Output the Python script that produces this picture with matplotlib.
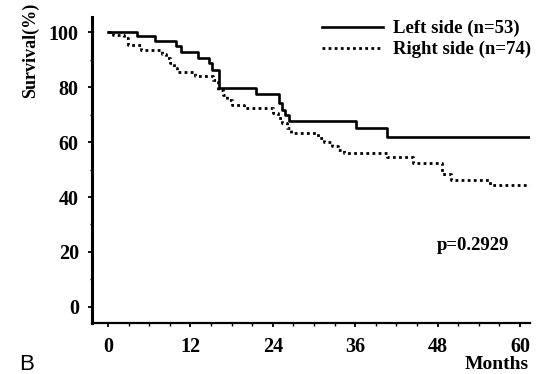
import matplotlib
matplotlib.use("Agg")
import matplotlib.pyplot as plt
from matplotlib.ticker import MultipleLocator, FixedLocator

# Kaplan-Meier estimates (months, survival %) for each group
left_months = [0, 4.2, 6.8, 9.9, 10.6, 13.1, 14.75, 15.1, 16.1, 21.5, 24.9, 25.3, 25.8, 26.4, 36.1, 40.6, 61.4]
left_surv = [100, 98.6, 96.8, 95.0, 92.7, 90.5, 88.7, 86.3, 79.8, 77.4, 74.1, 71.7, 69.9, 67.8, 65.2, 62.0, 62.0]

right_months = [0, 0.7, 2.4, 2.9, 4.8, 7.8, 8.4, 9.0, 9.6, 10.0, 12.7, 15.3, 16.0, 16.8, 17.4, 18.0,
                19.8, 24.1, 24.8, 25.4, 26.0, 26.6, 30.6, 31.5, 32.6, 33.5, 34.3, 40.6, 44.4, 48.6,
                49.9, 55.6, 61.4]
right_surv = [100, 99.0, 97.8, 95.4, 93.7, 92.3, 90.5, 88.7, 86.9, 85.6, 84.2, 82.7, 79.0, 77.0, 75.3, 73.5,
              72.3, 70.5, 68.7, 66.9, 65.1, 63.3, 61.5, 60.0, 58.6, 57.3, 56.1, 54.7, 52.3, 48.4,
              46.2, 44.4, 44.4]

x_ticks = [0, 12, 24, 36, 48, 60]
y_ticks = [0, 20, 40, 60, 80, 100]
left_label = "Left side (n=53)"
right_label = "Right side (n=74)"
p_text = "p=0.2929"

W, H = 539, 374
serif = "Liberation Serif"

fig = plt.figure(figsize=(W / 100, H / 100), dpi=100)
ax = fig.add_axes([92 / W, 1 - 323 / H, (530 - 92) / W, (323 - 17) / H])

ax.step(left_months, left_surv, where="post", color="black", lw=1.9, label=left_label)
ax.step(right_months, right_surv, where="post", color="black", lw=2.0,
        ls=(0, (1, 1.2)), label=right_label)

ax.set_xlim(-2.33, 61.46)
ax.set_ylim(-5.9, 105.6)

for side in ("top", "right"):
    ax.spines[side].set_visible(False)
ax.spines["left"].set_linewidth(2.2)
ax.spines["bottom"].set_linewidth(1.6)

ax.xaxis.set_major_locator(FixedLocator(x_ticks))
ax.yaxis.set_major_locator(FixedLocator(y_ticks))
ax.xaxis.set_minor_locator(MultipleLocator(3))
ax.yaxis.set_minor_locator(MultipleLocator(10))
ax.tick_params(axis="both", which="major", direction="out", length=3, width=1.3,
               labelsize=14.5)
ax.tick_params(axis="both", which="minor", direction="out", length=1.8, width=1.0)
ax.tick_params(axis="y", which="major", pad=6.5)
ax.tick_params(axis="x", which="major", pad=7)
for lab in ax.get_xticklabels() + ax.get_yticklabels():
    lab.set_fontfamily(serif)
    lab.set_fontweight("bold")

leg = ax.legend(loc="upper left", bbox_to_anchor=(322 / W, 1 - 20 / H),
                bbox_transform=fig.transFigure, frameon=False, borderpad=0,
                borderaxespad=0, handlelength=3.25, handletextpad=0.53,
                labelspacing=0.2,
                prop={"family": serif, "weight": "bold", "size": 13.5})

ax.text(53.1, 22.5, p_text, ha="center", va="center", family=serif,
        fontweight="bold", fontsize=13.5)

fig.text(465 / W, 1 - 373 / H, "Months", ha="left", va="bottom", family=serif,
         fontweight="bold", fontsize=14)
fig.text(30 / W, 1 - 50 / H, "Survival(%)", rotation=90, ha="center", va="center",
         family=serif, fontweight="bold", fontsize=13)
fig.text(19 / W, 1 - 364 / H, "B", ha="left", va="center", family="Liberation Sans",
         fontsize=16)

fig.savefig("out.png", dpi=100)
